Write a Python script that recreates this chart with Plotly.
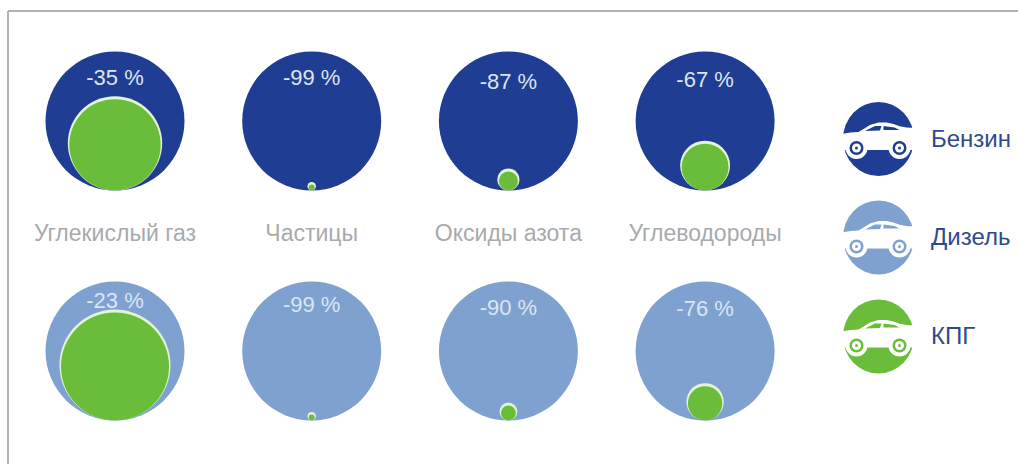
import plotly.graph_objects as go

# Emission changes of natural gas relative to each fuel, percent
pollutants = ["Углекислый газ", "Частицы", "Оксиды азота", "Углеводороды"]
petrol_change = [-35, -99, -87, -67]
diesel_change = [-23, -99, -90, -76]
percent_labels_petrol = ["-35 %", "-99 %", "-87 %", "-67 %"]
percent_labels_diesel = ["-23 %", "-99 %", "-90 %", "-76 %"]
legend_names = ["Бензин", "Дизель", "КПГ"]

NAVY = "#1f3d92"
LIGHT = "#7fa1cf"
GREEN = "#6abd3a"
PALE = "#e4f3d6"
GREY_TEXT = "#a8aaad"
W, H = 1018, 464

# One axis unit is one column / one row of the grid
COL_PX, ROW_PX = 196.7, 230.0
X0_PX, Y0_PX = 115.0, 121.0
RADIUS = 69.5
columns = list(range(len(pollutants)))


def gas_disk_radius(change):
    # Linear in the remaining share, with a floor so the smallest disks stay visible
    return max(RADIUS * (1 + change / 100) + 2, 4.2)


def px_to_row(px):
    return px / ROW_PX


fig = go.Figure()


def add_row(row, changes, labels, color, label_offsets):
    fig.add_trace(go.Scatter(
        x=columns, y=[row] * 4, mode="markers",
        marker=dict(size=2 * RADIUS, color=color, line=dict(width=0), opacity=1),
        hoverinfo="skip"))
    radii = [gas_disk_radius(c) for c in changes]
    # Pale rim behind the disk, thickest on top and fading out at the base
    fig.add_trace(go.Scatter(
        x=columns, y=[row + px_to_row(RADIUS - r) for r in radii], mode="markers",
        marker=dict(size=[2 * r for r in radii], color=PALE, line=dict(width=0), opacity=1),
        hoverinfo="skip"))
    inset = [min(1.5, r * 0.3) for r in radii]
    fig.add_trace(go.Scatter(
        x=columns,
        y=[row + px_to_row(RADIUS - r + i) for r, i in zip(radii, inset)],
        mode="markers",
        marker=dict(size=[2 * (r - i) for r, i in zip(radii, inset)], color=GREEN,
                    line=dict(width=0), opacity=1),
        hoverinfo="skip"))
    fig.add_trace(go.Scatter(
        x=columns, y=[row + px_to_row(o) for o in label_offsets], mode="text",
        text=labels, textposition="middle center",
        textfont=dict(family="Liberation Sans", size=22, color="#dbe5f4"),
        hoverinfo="skip"))


add_row(0, petrol_change, percent_labels_petrol, NAVY, [-42, -42, -38, -40])
add_row(1, diesel_change, percent_labels_diesel, LIGHT, [-49, -45, -42, -41])

# Pollutant captions between the two rows
fig.add_trace(go.Scatter(
    x=columns, y=[px_to_row(114)] * 4, mode="text", text=pollutants,
    textposition="middle center",
    textfont=dict(family="Liberation Sans", size=23, color=GREY_TEXT),
    hoverinfo="skip"))

shapes = []


def px_path(points, cx, cy):
    parts = []
    for i, (dx, dy) in enumerate(points):
        parts.append(f"{'M' if i == 0 else 'L'}{(cx + dx) / W:.5f},{1 - (cy + dy) / H:.5f}")
    return " ".join(parts) + " Z"


def disk(cx, cy, rx, color, ry=None):
    ry = rx if ry is None else ry
    shapes.append(dict(type="circle", xref="paper", yref="paper",
                       x0=(cx - rx) / W, x1=(cx + rx) / W,
                       y0=1 - (cy + ry) / H, y1=1 - (cy - ry) / H,
                       fillcolor=color, line=dict(width=0), layer="above"))


BODY = [(-37, -5), (-28, -6.5), (-20, -7), (-15, -10), (-8.5, -14), (0, -16.5), (8, -16.5),
        (15, -15), (21, -12.7), (28, -11.5), (37, -11), (37, 11), (-37, 11)]
WINDOW_A = [(-13.5, -8), (-3.5, -13), (3, -13), (1.5, -8.5)]
WINDOW_B = [(5, -13), (16, -11.5), (21, -9), (5, -9)]


def car_icon(cx, cy, color):
    disk(cx, cy, 35.5, color, ry=37)
    shapes.append(dict(type="path", xref="paper", yref="paper", path=px_path(BODY, cx, cy),
                       fillcolor="white", line=dict(width=0), layer="above"))
    for window in (WINDOW_A, WINDOW_B):
        shapes.append(dict(type="path", xref="paper", yref="paper", path=px_path(window, cx, cy),
                           fillcolor=color, line=dict(width=0), layer="above"))
    for wx in (-22, 21):
        disk(cx + wx, cy + 9, 11, "white")
        disk(cx + wx, cy + 9, 7, color)
        disk(cx + wx, cy + 9, 4.5, "white")
        disk(cx + wx, cy + 9, 1.5, color)


legend_colors = [NAVY, LIGHT, GREEN]
legend_centres_px = [139.0, 237.5, 336.5]
legend_text_color = "#2f4a8c"
annotations = []
for name, col, cy in zip(legend_names, legend_colors, legend_centres_px):
    car_icon(878.5, cy, col)
    annotations.append(dict(xref="paper", yref="paper", x=929 / W, y=1 - (cy - 1) / H,
                            xanchor="left", yanchor="middle", showarrow=False, text=name,
                            font=dict(family="Liberation Sans", size=24, color=legend_text_color)))

# Frame: top and left rules only, open towards the page edges
for x0, y0, x1, y1 in [(8, 11, W, 11), (8, 11, 8, H)]:
    shapes.append(dict(type="line", xref="paper", yref="paper",
                       x0=x0 / W, x1=x1 / W, y0=1 - y0 / H, y1=1 - y1 / H,
                       line=dict(color="#b0b1b4", width=2)))

fig.update_layout(
    width=W, height=H, margin=dict(l=0, r=0, t=0, b=0),
    paper_bgcolor="white", plot_bgcolor="white", showlegend=False,
    shapes=shapes, annotations=annotations,
    xaxis=dict(range=[-X0_PX / COL_PX, (W - X0_PX) / COL_PX], visible=False, fixedrange=True),
    yaxis=dict(range=[(H - Y0_PX) / ROW_PX, -Y0_PX / ROW_PX], visible=False, fixedrange=True),
)

fig.write_html("out.html", config={"displayModeBar": False})
